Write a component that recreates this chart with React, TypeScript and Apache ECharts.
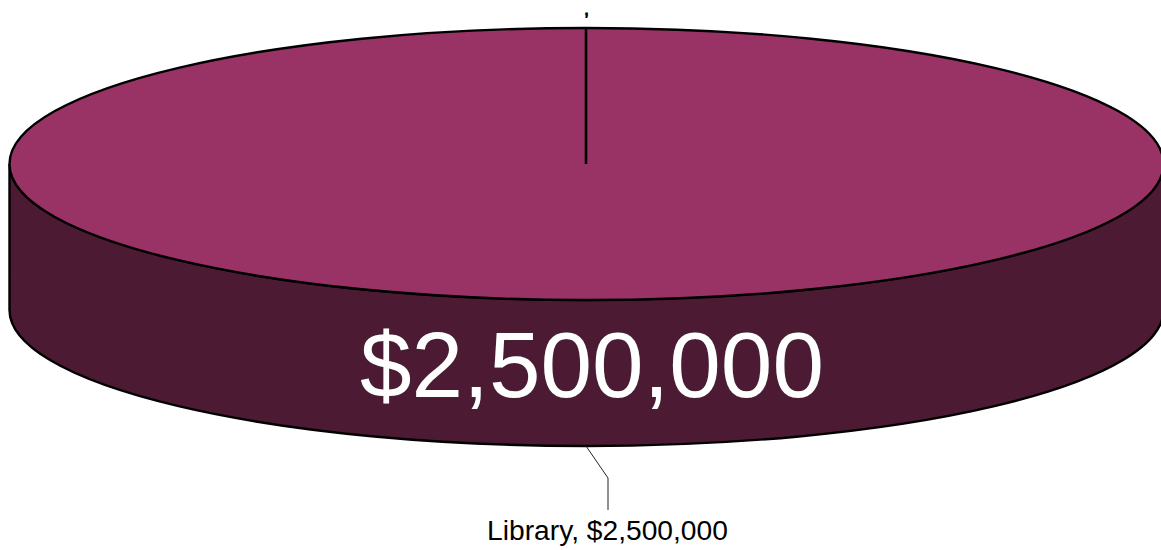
import React, { useEffect, useRef } from "react";
import * as echarts from "echarts";

const sliceNames = ["Library", ""];
const sliceValues = [2500000, 0];

const FONT = '"Liberation Sans", Arial, sans-serif';
const CX = 586.5;
const TOP_CY = 164;
const RX = 577;
const RY = 136;
const DEPTH = 146;
const TOP_COLOR = "#993366";
const SIDE_COLOR = "#4d1a33";

const money = (v: number) => "$" + v.toLocaleString("en-US");

export default function App() {
  const ref = useRef<HTMLDivElement>(null);
  useEffect(() => {
    document.body.style.margin = "0";
    const chart = echarts.init(ref.current!, null, { renderer: "svg" });
    const total = sliceValues.reduce((a, b) => a + b, 0);
    const renderItem = (params: any, api: any) => {
      const value = api.value(0) as number;
      const name = sliceNames[params.dataIndex];
      const children: any[] = [];
      if (value > 0) {
        const full = value >= total;
        if (full) {
          const l = CX - RX;
          const r = CX + RX;
          const b = TOP_CY + DEPTH;
          children.push({
            type: "path",
            shape: {
              pathData: `M${l} ${TOP_CY}L${l} ${b}A${RX} ${RY} 0 0 0 ${r} ${b}L${r} ${TOP_CY}A${RX} ${RY} 0 0 1 ${l} ${TOP_CY}Z`,
              x: l,
              y: TOP_CY,
              width: RX * 2,
              height: DEPTH + RY,
              layout: "cover",
            },
            style: { fill: SIDE_COLOR, stroke: "#000", lineWidth: 2.4 },
          });
          children.push({
            type: "ellipse",
            shape: { cx: CX, cy: TOP_CY, rx: RX, ry: RY },
            style: { fill: TOP_COLOR, stroke: "#000", lineWidth: 2.4 },
          });
          children.push({
            type: "line",
            shape: { x1: 586, y1: TOP_CY - RY, x2: 586, y2: TOP_CY },
            style: { stroke: "#000", lineWidth: 2.6 },
          });
          children.push({
            type: "text",
            style: {
              text: money(value),
              x: 592,
              y: 365,
              align: "center",
              verticalAlign: "middle",
              fill: "#fff",
              stroke: "#333",
              lineWidth: 0.6,
              font: `92.7px ${FONT}`,
            },
          });
          children.push({
            type: "polyline",
            shape: { points: [[586, 446], [608, 478], [608, 510]] },
            style: { fill: "none", stroke: "#222", lineWidth: 1 },
          });
          children.push({
            type: "text",
            style: {
              text: `${name}, ${money(value)}`,
              x: 607.5,
              y: 530,
              align: "center",
              verticalAlign: "middle",
              fill: "#000",
              font: `28.2px ${FONT}`,
            },
          });
        }
      } else {
        children.push({
          type: "text",
          style: {
            text: ",",
            x: 586.5,
            y: 0,
            align: "center",
            verticalAlign: "top",
            fill: "#000",
            stroke: "#000",
            lineWidth: 0.9,
            font: `18px ${FONT}`,
          },
        });
      }
      return { type: "group", children };
    };
    chart.setOption({
      animation: false,
      backgroundColor: "#fff",
      series: [
        {
          type: "custom",
          coordinateSystem: "none",
          silent: true,
          renderItem,
          data: sliceValues.map((v, i) => ({ name: sliceNames[i], value: v })),
        },
      ],
    });
    return () => chart.dispose();
  }, []);
  return <div ref={ref} style={{ width: 1161, height: 550 }} />;
}
